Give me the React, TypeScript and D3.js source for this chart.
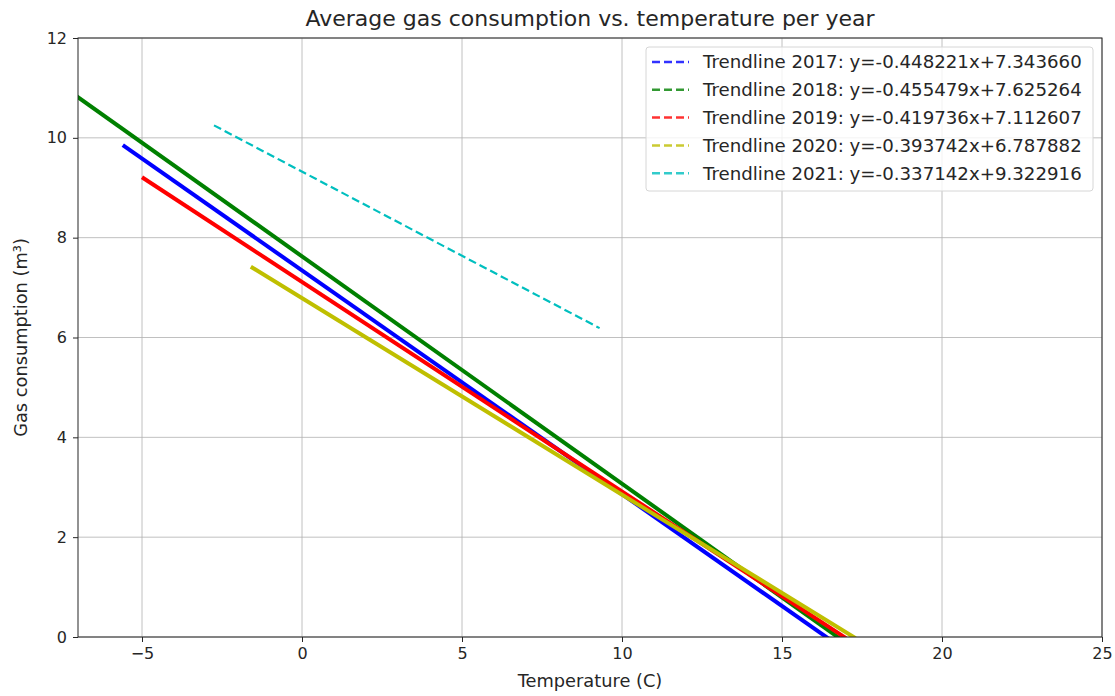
import React, { useEffect, useRef } from "react";
import * as d3 from "d3";

// trendline per year: y = slope * x + intercept, drawn over the temperature range seen
const years = [2017, 2018, 2019, 2020, 2021];
const slopes = [-0.448221, -0.455479, -0.419736, -0.393742, -0.337142];
const intercepts = [7.34366, 7.625264, 7.112607, 6.787882, 9.322916];
const xStart = [-5.6, -7.3, -5.0, -1.6, -2.75];
const xEnd = [16.5, 16.8, 17.0, 17.3, 9.3];
const colors = ["#0000ff", "#008000", "#ff0000", "#bfbf00", "#00bfbf"];

const xTicks = [-5, 0, 5, 10, 15, 20, 25];
const yTicks = [0, 2, 4, 6, 8, 10, 12];

const W = 1115;
const H = 696;
const margin = { top: 38, right: 13, bottom: 59, left: 78 };
const FONT = "DejaVu Sans";

export default function App() {
  const svgRef = useRef<SVGSVGElement>(null);

  useEffect(() => {
    const svg = d3.select(svgRef.current);
    svg.selectAll("*").remove();
    const width = W - margin.left - margin.right;
    const height = H - margin.top - margin.bottom;

    const x = d3.scaleLinear().domain([-7, 25]).range([0, width]);
    const y = d3.scaleLinear().domain([0, 12]).range([height, 0]);

    svg.append("rect").attr("width", W).attr("height", H).attr("fill", "white");
    const g = svg.append("g").attr("transform", `translate(${margin.left},${margin.top})`);

    svg.append("defs").append("clipPath").attr("id", "plot-clip")
      .append("rect").attr("width", width).attr("height", height);

    // grid
    g.append("g").selectAll("line").data(xTicks).enter().append("line")
      .attr("x1", (d) => x(d)).attr("x2", (d) => x(d))
      .attr("y1", 0).attr("y2", height)
      .attr("stroke", "#b0b0b0").attr("stroke-width", 0.8);
    g.append("g").selectAll("line").data(yTicks).enter().append("line")
      .attr("y1", (d) => y(d)).attr("y2", (d) => y(d))
      .attr("x1", 0).attr("x2", width)
      .attr("stroke", "#b0b0b0").attr("stroke-width", 0.8);

    // trendlines
    const line = d3.line<number>().x((d) => x(d[0])).y((d) => y(d[1]));
    const lines = g.append("g").attr("clip-path", "url(#plot-clip)");
    years.forEach((yr, i) => {
      const pts = [xStart[i], xEnd[i]].map((t) => [t, slopes[i] * t + intercepts[i]]);
      const dense = yr !== 2021;
      lines.append("path")
        .attr("d", line(pts as any))
        .attr("fill", "none")
        .attr("stroke", colors[i])
        .attr("stroke-width", dense ? 4 : 2.2)
        .attr("stroke-dasharray", dense ? null : "8,4");
    });

    // axes
    const xAxis = g.append("g").attr("transform", `translate(0,${height})`)
      .call(d3.axisBottom(x).tickValues(xTicks).tickSize(5).tickPadding(6).tickFormat((d) => d3.format("d")(d as number).replace("-", "\u2212")));
    const yAxis = g.append("g")
      .call(d3.axisLeft(y).tickValues(yTicks).tickSize(5).tickPadding(6).tickFormat(d3.format("d")));
    [xAxis, yAxis].forEach((a) => {
      a.select(".domain").remove();
      a.selectAll("text").attr("font-family", FONT).attr("font-size", 16).attr("fill", "#262626");
      a.selectAll("line").attr("stroke", "#262626");
    });

    g.append("rect").attr("width", width).attr("height", height)
      .attr("fill", "none").attr("stroke", "#262626").attr("stroke-width", 1);

    // labels
    svg.append("text").attr("x", margin.left + width / 2).attr("y", 26)
      .attr("text-anchor", "middle").attr("font-family", FONT).attr("font-size", 22)
      .attr("fill", "#262626").text("Average gas consumption vs. temperature per year");
    svg.append("text").attr("x", margin.left + width / 2).attr("y", 687)
      .attr("text-anchor", "middle").attr("font-family", FONT).attr("font-size", 17.8)
      .attr("fill", "#262626").text("Temperature (C)");
    svg.append("text").attr("transform", `translate(27,${margin.top + height / 2}) rotate(-90)`)
      .attr("text-anchor", "middle").attr("font-family", FONT).attr("font-size", 17.8)
      .attr("fill", "#262626").text("Gas consumption (m\u00b3)");

    // legend
    const lg = svg.append("g").attr("transform", "translate(646,47)");
    lg.append("rect").attr("width", 447).attr("height", 144).attr("rx", 3)
      .attr("fill", "white").attr("fill-opacity", 0.8).attr("stroke", "#d6d6d6");
    years.forEach((yr, i) => {
      const ry = 15 + i * 27.8;
      lg.append("line").attr("x1", 6).attr("x2", 43).attr("y1", ry).attr("y2", ry)
        .attr("stroke", colors[i]).attr("stroke-width", 2.5).attr("stroke-dasharray", "8,4")
        .attr("opacity", 0.8);
      lg.append("text").attr("x", 57).attr("y", ry).attr("dy", "0.35em")
        .attr("font-family", FONT).attr("font-size", 18.2).attr("fill", "#262626")
        .text(`Trendline ${yr}: y=${slopes[i].toFixed(6)}x+${intercepts[i].toFixed(6)}`);
    });
  }, []);

  return <svg ref={svgRef} width={W} height={H} style={{ position: "absolute", left: 0, top: 0 }} />;
}
